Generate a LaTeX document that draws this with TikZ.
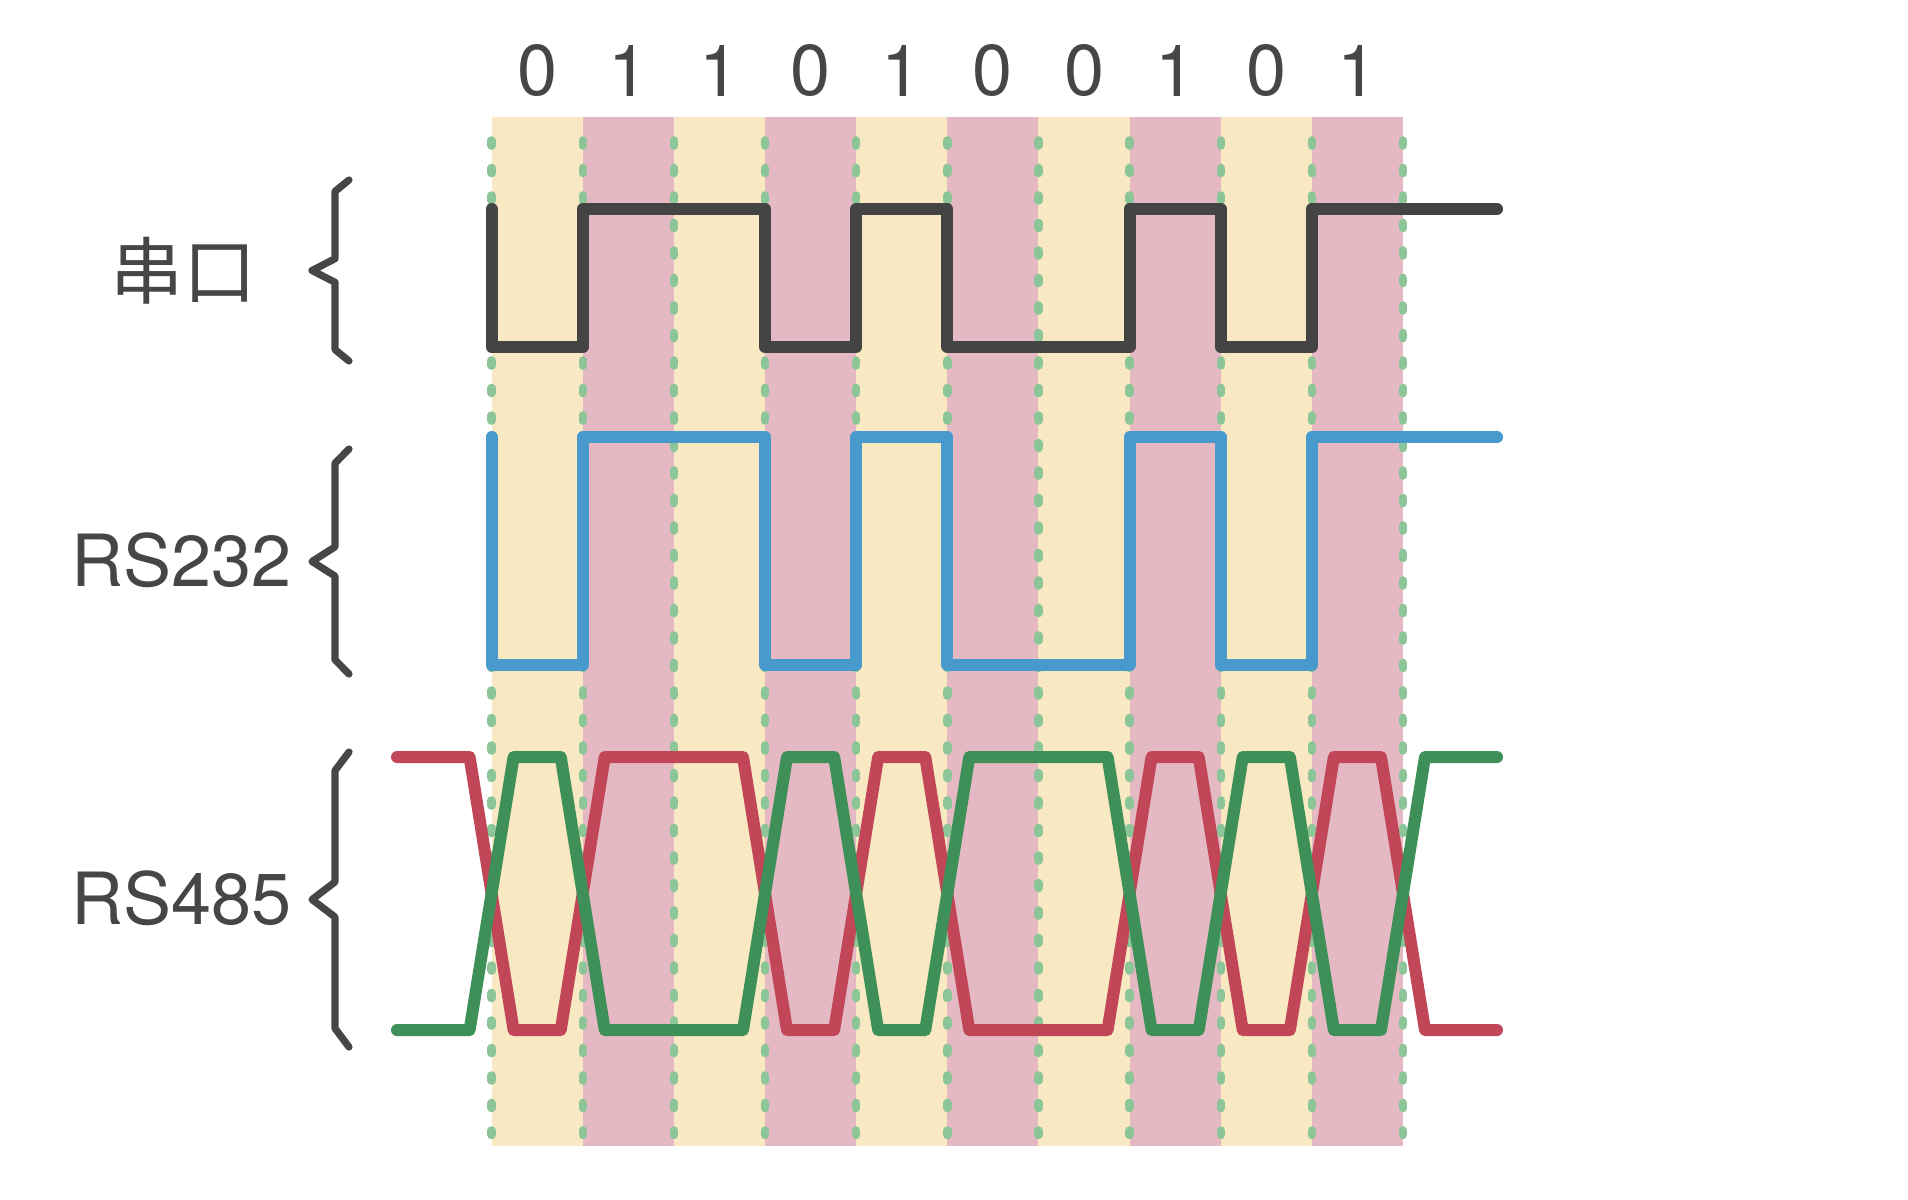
\documentclass[tikz,border=0pt]{standalone}
\usepackage{fontspec}
\setmainfont{TeX Gyre Heros}
\newfontfamily\cjkfont{Noto Sans CJK SC}
\definecolor{ink}{RGB}{70,70,70}
\definecolor{stripeY}{RGB}{248,233,194}
\definecolor{stripeP}{RGB}{229,185,196}
\definecolor{gridgreen}{RGB}{140,198,152}
\definecolor{wblack}{RGB}{68,68,68}
\definecolor{wblue}{RGB}{72,153,204}
\definecolor{wred}{RGB}{192,70,88}
\definecolor{wgreen}{RGB}{62,143,88}
\begin{document}
\begin{tikzpicture}[x=0.5pt,y=-0.5pt,
  wave/.style={line width=6pt, line join=round, line cap=round},
  gridline/.style={draw=gridgreen, line width=4.2pt, line cap=round, dash pattern=on 2.6pt off 11.15pt},
  bracestyle/.style={draw=ink, line width=3.6pt, line join=round, line cap=round},
  lbl/.style={text=ink, font=\fontsize{36}{40}\selectfont, inner sep=0pt},
  bitlbl/.style={text=ink, font=\fontsize{36}{40}\selectfont, inner sep=0pt, anchor=center}]
\useasboundingbox[fill=white] (0,0) rectangle (1908,1200);
% stripes
\foreach \i in {0,2,4,6,8} {
  \fill[stripeY] ({491.6+91.14*\i},116.7) rectangle ({491.6+91.14*(\i+1)},1146);
}
\foreach \i in {1,3,5,7,9} {
  \fill[stripeP] ({491.6+91.14*\i},116.7) rectangle ({491.6+91.14*(\i+1)},1146);
}
% dashed bit boundaries
\foreach \i in {0,...,10} {
  \draw[gridline] ({491.6+91.14*\i},140.4) -- ({491.6+91.14*\i},1135);
}
% bit labels
\foreach \b [count=\i from 0] in {0,1,1,0,1,0,0,1,0,1} {
  \node[bitlbl] (bit\i) at ({537.17+91.14*\i},71) {\b};
}
% serial
\draw[wave, wblack] (491.6,209) -- (491.6,347) -- (582.74,347) -- (582.74,209)
  -- (765.02,209) -- (765.02,347) -- (856.16,347) -- (856.16,209)
  -- (947.3,209) -- (947.3,347) -- (1129.58,347) -- (1129.58,209)
  -- (1220.72,209) -- (1220.72,347) -- (1311.86,347) -- (1311.86,209) -- (1497,209);
% RS232
\draw[wave, wblue] (491.6,437) -- (491.6,665) -- (582.74,665) -- (582.74,437)
  -- (765.02,437) -- (765.02,665) -- (856.16,665) -- (856.16,437)
  -- (947.3,437) -- (947.3,665) -- (1129.58,665) -- (1129.58,437)
  -- (1220.72,437) -- (1220.72,665) -- (1311.86,665) -- (1311.86,437) -- (1497,437);
% RS485 red (high = 1)
\draw[wave, wred] (397,757)
  -- (469.6,757) -- (513.6,1030) -- (560.74,1030) -- (604.74,757)
  -- (743.02,757) -- (787.02,1030) -- (834.16,1030) -- (878.16,757)
  -- (925.3,757) -- (969.3,1030) -- (1107.58,1030) -- (1151.58,757)
  -- (1198.72,757) -- (1242.72,1030) -- (1289.86,1030) -- (1333.86,757)
  -- (1381,757) -- (1425,1030) -- (1497,1030);
% RS485 green (inverse)
\draw[wave, wgreen] (397,1030)
  -- (469.6,1030) -- (513.6,757) -- (560.74,757) -- (604.74,1030)
  -- (743.02,1030) -- (787.02,757) -- (834.16,757) -- (878.16,1030)
  -- (925.3,1030) -- (969.3,757) -- (1107.58,757) -- (1151.58,1030)
  -- (1198.72,1030) -- (1242.72,757) -- (1289.86,757) -- (1333.86,1030)
  -- (1381,1030) -- (1425,757) -- (1497,757);
% braces
\draw[bracestyle] (349,180) -- (335,191.4) -- (335,258.7) -- (312,270.5)
  -- (335,282.3) -- (335,349.6) -- (349,361);
\draw[bracestyle] (349,449) -- (335,463.2) -- (335,546.9) -- (312,561.5)
  -- (335,576.1) -- (335,659.8) -- (349,674);
\draw[bracestyle] (349,752) -- (335,770.6) -- (335,882) -- (312,899.5)
  -- (335,917) -- (335,1028.4) -- (349,1047);
% labels
\node[lbl, font=\cjkfont\fontsize{36.5}{40}\selectfont, anchor=center] (serial) at (183,271) {串口};
\node[lbl, anchor=east] (rs232) at (292,560) {RS232};
\node[lbl, anchor=east] (rs485) at (292,898) {RS485};
\end{tikzpicture}
\end{document}
